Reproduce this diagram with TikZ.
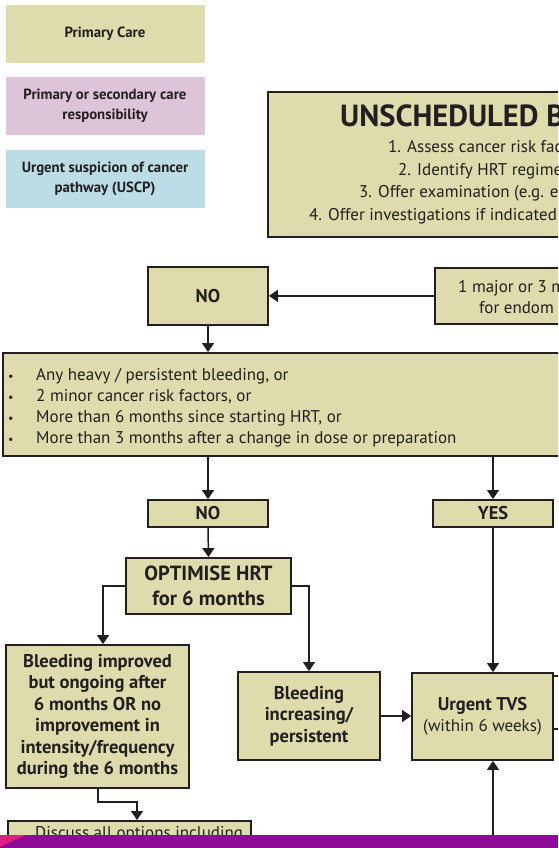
\documentclass[tikz,border=0pt]{standalone}
\usepackage{fontspec}
\setmainfont{PT Sans}
\usepackage{tikz}
\usetikzlibrary{arrows.meta,shapes,backgrounds,calc}

\definecolor{ink}{HTML}{231F20}
\definecolor{careFill}{HTML}{DEDCAC}
\definecolor{sharedFill}{HTML}{DEC4D8}
\definecolor{uscpFill}{HTML}{BCDCE6}
\definecolor{footPurple}{HTML}{8E0B97}
\definecolor{footPink}{HTML}{DC1F84}

\begin{document}
\begin{tikzpicture}[x=1pt,y=-1pt,
    key/.style={inner sep=0pt,align=center,text=ink,minimum width=199pt,minimum height=58pt,
      font=\bfseries\fontsize{14.8}{20}\selectfont},
    box/.style={draw=ink,line width=1.8pt,fill=careFill,inner sep=0pt,align=center,text=ink,
      font=\bfseries\fontsize{18.5}{21.5}\selectfont},
    plain/.style={text=ink,inner sep=0pt,font=\fontsize{17}{21}\selectfont},
    flow/.style={draw=ink,line width=1.5pt,-{Triangle[length=9pt,width=12pt]}},
    link/.style={draw=ink,line width=1.5pt}
  ]
    \useasboundingbox (0,0) rectangle (558,848);
    \fill[white] (0,0) rectangle (558,848);
    \clip (0,0) rectangle (558,848);
    \def\showKey{
      \node[key,fill=careFill] (keyPrimary) at (105,34) {Primary Care};
      \node[key,fill=sharedFill] (keyShared) at (105,106) {Primary or secondary care\\responsibility};
      \node[key,fill=uscpFill] (keyUscp) at (105,179) {Urgent suspicion of cancer\\pathway (USCP)};
    }
    \def\showBoxes{
      % Opening box, runs off to the right
      \node[box,anchor=north west,minimum width=330pt,minimum height=145pt] (unsched) at (267,91) {};
      \node[plain,anchor=base west,font=\bfseries\fontsize{30.5}{32}\selectfont] (unschedTitle) at (340,127) {UNSCHEDULED B};
      \node[plain,anchor=base west] (stepA) at (388,153) {1. Assess cancer risk fac};
      \node[plain,anchor=base west] (stepB) at (398,175) {2. Identify HRT regime};
      \node[plain,anchor=base west] (stepC) at (359,197) {3. Offer examination (e.g. e};
      \node[plain,anchor=base west] (stepD) at (309,220) {4. Offer investigations if indicated};
      % Risk factor box
      \node[box,anchor=north west,minimum width=200pt,minimum height=56pt] (major) at (434,267) {};
      \node[plain,anchor=base west] (majorA) at (458,292) {1 major or 3 m};
      \node[plain,anchor=base west] (majorB) at (479,313) {for endom};
      \node[box,minimum width=120pt,minimum height=58pt] (no1) at (208,296) {NO};
      % Criteria list
      \node[box,anchor=north west,minimum width=620pt,minimum height=103pt] (crit) at (2,352) {};
      \foreach \t [count=\i] in {{Any heavy / persistent bleeding, or},
          {2 minor cancer risk factors, or},
          {More than 6 months since starting HRT, or},
          {More than 3 months after a change in dose or preparation}} {
        \node[plain,anchor=base west] (critBullet\i) at (8,359+21*\i) {\fontsize{12}{12}\selectfont\textbullet};
        \node[plain,anchor=base west] (critLine\i) at (36,359+21*\i) {\t};
      }
      \node[box,minimum width=120pt,minimum height=27pt] (no2) at (208,513.5) {NO};
      \node[box,minimum width=120pt,minimum height=27pt] (yes) at (493,513.5) {YES};
      \node[box,minimum width=165pt,minimum height=56pt,font=\bfseries\fontsize{20.5}{25}\selectfont] (opt) at (208.5,586) {OPTIMISE HRT\\for 6 months};
      \node[box,minimum width=183pt,minimum height=143pt] (improved) at (97.5,716.5)
        {Bleeding improved\\but ongoing after\\6 months OR no\\improvement in\\intensity/frequency\\during the 6 months};
      \node[box,minimum width=142pt,minimum height=88pt] (inc) at (309,716) {Bleeding\\increasing/\\persistent};
      \node[box,minimum width=141pt,minimum height=87pt] (tvs) at (482.5,716.5)
        {Urgent TVS\\{\mdseries\fontsize{17}{21}\selectfont(within 6 weeks)}};
      \node[box,anchor=north west,minimum width=243pt,minimum height=60pt] (discuss) at (7,820) {};
      \node[plain,anchor=base west] (discussText) at (35,838) {Discuss all options including};
    }
    \def\showLinks{
      \coordinate (optDrop) at (103,587);
      \coordinate (kneeA) at (98,802);
      \coordinate (kneeB) at (137,802);
      \coordinate (footIn) at (493,850);
      \draw[flow] (major.west) -- (major.west -| no1.east);
      \draw[flow] (no1.south) -- (crit.north -| no1.south);
      \draw[flow] (crit.south -| no2.north) -- (no2.north);
      \draw[flow] (crit.south -| yes.north) -- (yes.north);
      \draw[flow] (no2.south) -- (opt.north);
      \draw[flow] (opt.west) -| (optDrop |- improved.north);
      \draw[flow] (opt.east) -| (inc.north);
      \draw[flow] (inc.east) -- (inc.east -| tvs.west);
      \draw[flow] (yes.south) -- (yes.south |- tvs.north);
      \draw[flow] (footIn) -- (footIn |- tvs.south);
      \draw[flow] (kneeA |- improved.south) -- (kneeA) -- (kneeB) -- (kneeB |- discuss.north);
      % stubs leaving to the right
      \draw[link] (tvs.east |- 0,676) -- ++(5,0);
      \draw[link] (tvs.east |- 0,729) -- ++(8,0);
    }
    \def\showFooter{
      \fill[footPurple] (0,835) rectangle (558,848);
      \fill[footPink] (0,835) -- (26,835) -- (0,847) -- cycle;
    }
    \showKey
    \showBoxes
    \showLinks
    \showFooter
\end{tikzpicture}
\end{document}
